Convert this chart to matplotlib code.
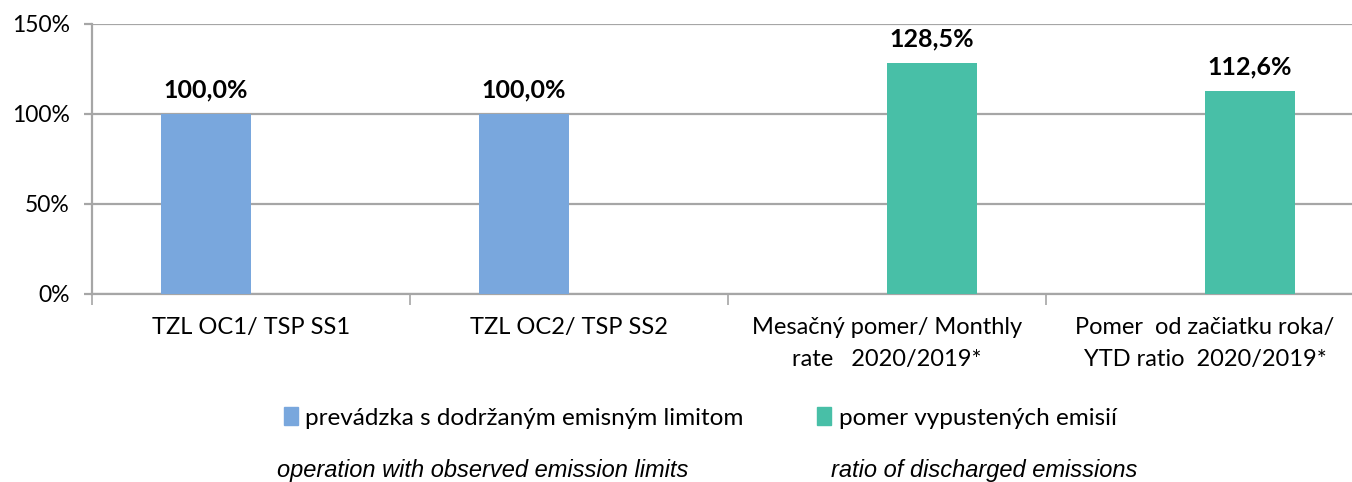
import matplotlib.pyplot as plt
import matplotlib.patches as mpatches
import numpy as np

# data
categories = ["TZL OC1/ TSP SS1", "TZL OC2/ TSP SS2",
              "Mesačný pomer/ Monthly\nrate   2020/2019*",
              "Pomer  od začiatku roka/\nYTD ratio  2020/2019*"]
limit_ok = [1.0, 1.0, np.nan, np.nan]
emission_ratio = [np.nan, np.nan, 1.285, 1.126]
series_names = ["prevádzka s dodržaným emisným limitom", "pomer vypustených emisií"]
series_names_en = ["operation with observed emission limits", "ratio of discharged emissions"]
yticks = [0, 0.5, 1.0, 1.5]

BLUE = "#79A7DD"
GREEN = "#48BFA7"
GRID = "#A6A6A6"

plt.rcParams['font.family'] = ['Lato', 'DejaVu Sans']

fig = plt.figure(figsize=(13.52, 4.82), dpi=100)
ax = fig.add_axes([92 / 1352, 188 / 482, 1272 / 1352, 270 / 482])

x = np.arange(len(categories))
w = 0.283
ax.bar(x - w / 2, limit_ok, w, color=BLUE, zorder=3)
ax.bar(x + w / 2, emission_ratio, w, color=GREEN, zorder=3)

for xi, v in zip(x - w / 2, limit_ok):
    if not np.isnan(v):
        ax.text(xi, v + 0.07, f"{v*100:.1f}%".replace(".", ","), ha='center', va='bottom',
                fontsize=18, fontweight='bold')
for xi, v in zip(x + w / 2, emission_ratio):
    if not np.isnan(v):
        ax.text(xi, v + 0.07, f"{v*100:.1f}%".replace(".", ","), ha='center', va='bottom',
                fontsize=18, fontweight='bold')

ax.set_xlim(-0.5, len(categories) - 0.5)
ax.set_ylim(0, 1.5)
ax.set_yticks(yticks)
ax.set_yticklabels([f"{int(t*100)}%" for t in yticks], fontsize=16.5)
ax.yaxis.grid(True, color=GRID, linewidth=1.6, zorder=0)
ax.tick_params(axis='y', length=6, width=1.6, color=GRID, pad=10)

# category boundary ticks on x axis
ax.set_xticks(np.arange(len(categories) + 1) - 0.5)
ax.set_xticklabels([])
ax.tick_params(axis='x', length=8, width=1.2, color=GRID)
for xi, lab in zip(x, categories):
    ax.text(xi, -0.13, lab, ha='center', va='top', fontsize=17, linespacing=1.65,
            transform=ax.transData)

for s in ['top', 'right']:
    ax.spines[s].set_visible(False)
ax.spines['left'].set_color(GRID)
ax.spines['left'].set_linewidth(1.6)
ax.spines['bottom'].set_color(GRID)
ax.spines['bottom'].set_linewidth(1.6)

handles = [mpatches.Patch(color=BLUE), mpatches.Patch(color=GREEN)]
fig.legend(handles, series_names, loc='center', bbox_to_anchor=(700 / 1352, 1 - 418 / 482),
           ncol=2, frameon=False, fontsize=17.5, handlelength=0.6, handleheight=0.7,
           handletextpad=0.3, columnspacing=3.0)

fig.text(483 / 1352, 1 - 470 / 482, series_names_en[0], ha='center', va='center',
         fontsize=17, style='italic', family='Liberation Sans')
fig.text(984 / 1352, 1 - 470 / 482, series_names_en[1], ha='center', va='center',
         fontsize=17, style='italic', family='Liberation Sans')

fig.savefig("out.png", dpi=100)
